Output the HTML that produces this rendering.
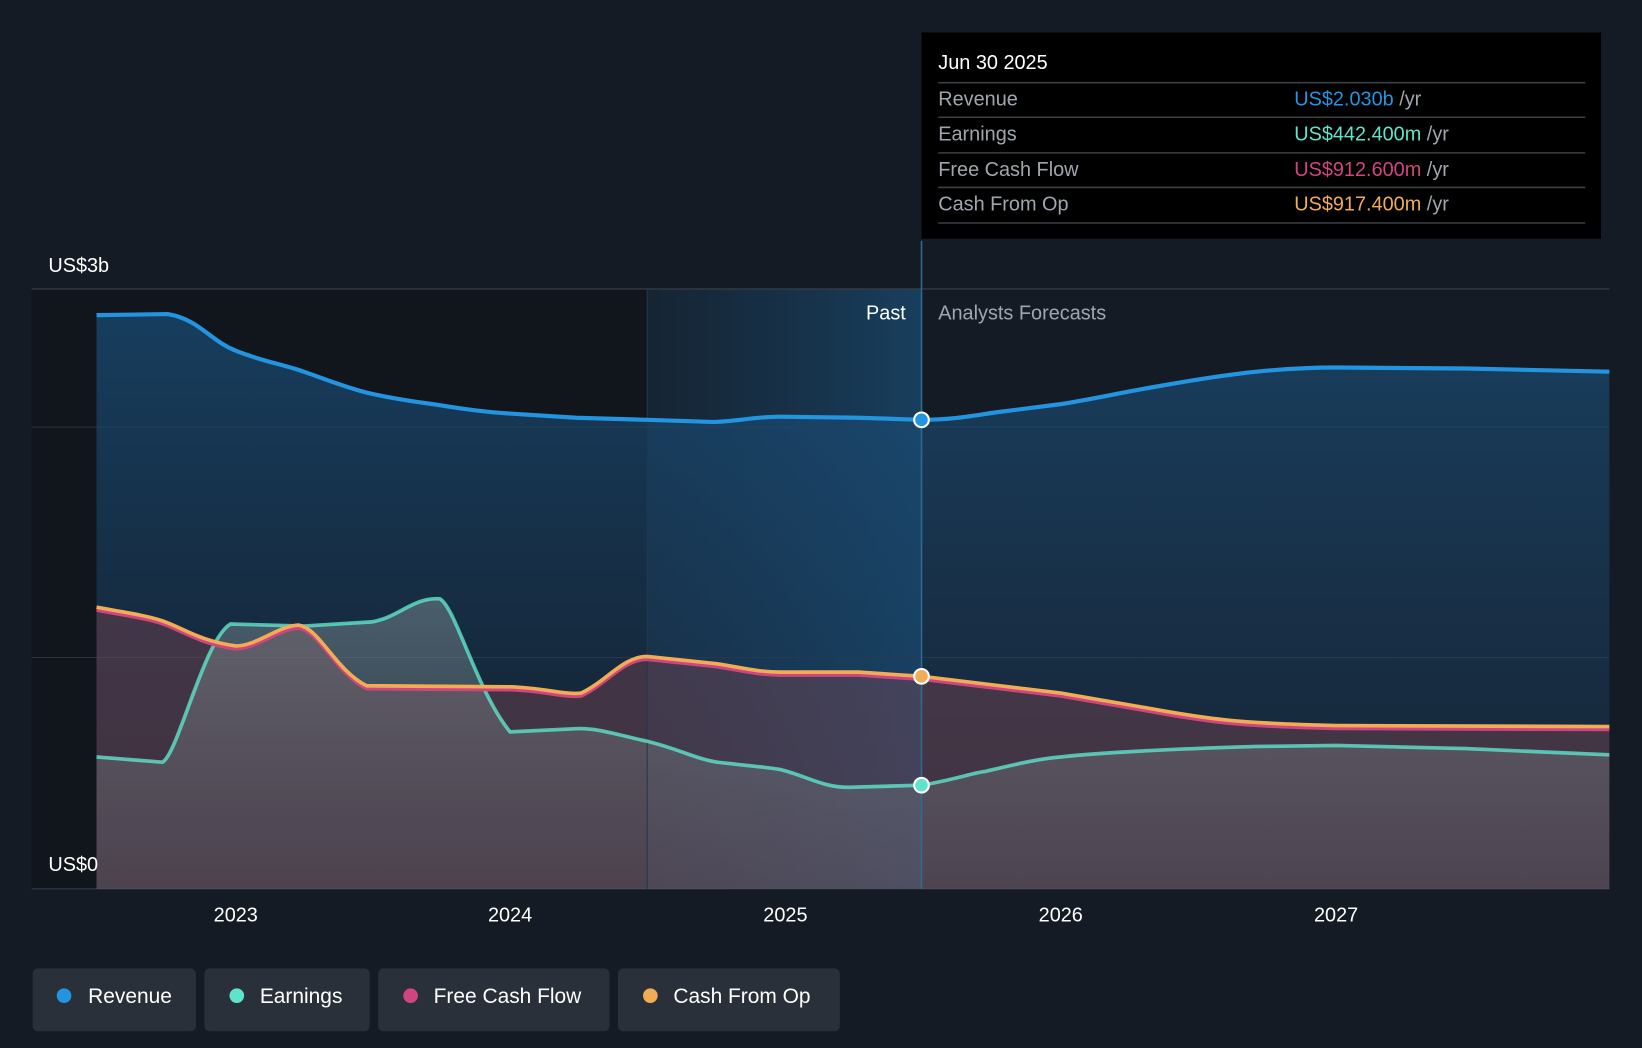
<!DOCTYPE html>
<html><head><meta charset="utf-8"><style>
html,body{margin:0;padding:0;background:#151b24;}
svg{display:block;font-family:"Liberation Sans",sans-serif;}
</style></head><body>
<svg width="1642" height="1048" viewBox="0 0 1568 1001" xmlns="http://www.w3.org/2000/svg">
<defs>
<linearGradient id="rev" x1="0" y1="0" x2="0" y2="1"><stop offset="0" stop-color="#1a4f7a" stop-opacity="0.7"/><stop offset="1" stop-color="#1a3a5a" stop-opacity="0.3"/></linearGradient>
<linearGradient id="hl" x1="0" y1="0" x2="1" y2="0"><stop offset="0" stop-color="#1b5a8a" stop-opacity="0.15"/><stop offset="1" stop-color="#1b6aa5" stop-opacity="0.45"/></linearGradient>
<linearGradient id="ef" x1="0" y1="0" x2="0" y2="1"><stop offset="0" stop-color="#8a9a9a" stop-opacity="0.45"/><stop offset="1" stop-color="#6a6f78" stop-opacity="0.3"/></linearGradient>
</defs>
<rect width="1568" height="1001" fill="#151b24"/>
<rect x="30" y="276" width="588" height="573" fill="#11151c"/>
<rect x="618" y="276" width="262" height="573" fill="url(#hl)"/>
<line x1="30" y1="276" x2="1537" y2="276" stroke="#3a414b" stroke-width="1"/>
<line x1="30" y1="408" x2="1537" y2="408" stroke="#2c3440" stroke-width="1"/>
<line x1="30" y1="628" x2="1537" y2="628" stroke="#2c3440" stroke-width="1"/>
<line x1="30" y1="849" x2="1537" y2="849" stroke="#3a414b" stroke-width="1"/>
<path d="M92,301 L160,300 C190,305 200,325 225,335 C250,345 270,348 290,355 C310,362 330,370 350,375 C380,382 400,384 420,387 C450,392 470,394 487,395 L550,399 L618,401 L680,403 C700,403 720,398 745,398 L820,399 L880,401 C910,401 930,397 950,394 L1013,386 C1050,380 1070,375 1100,370 C1150,361 1180,357 1200,355 C1230,352 1250,351 1276,351 L1400,352 L1537,355 L1537,849 L92,849 Z" fill="url(#rev)"/>
<path d="M92,580 C120,585 140,588 155,593 C175,600 190,612 225,617 C245,617 265,598 285,597 C305,600 320,640 350,655 L487,656 C520,657 540,664 555,662 C580,650 595,627 618,627 L685,634 C710,638 725,642 745,642 L820,642 L880,646 L1013,662 L1100,677 C1150,686 1180,691 1276,693 L1537,694 L1537,849 L92,849 Z" fill="#8a4a55" fill-opacity="0.38"/>
<path d="M92,723 L155,728 C170,720 195,610 220,596 L290,598 L355,594 C380,590 395,570 420,572 C435,580 455,660 487,699 L550,696 C570,695 590,702 618,708 C650,716 665,725 685,728 C720,732 735,733 745,735 C770,741 785,752 810,752 L880,750 C910,745 930,738 940,737 C970,730 990,725 1013,723 C1050,719 1100,716 1200,713 L1276,712 L1400,715 L1537,721 L1537,849 L92,849 Z" fill="url(#ef)"/>
<line x1="880" y1="230" x2="880" y2="849" stroke="#2e6a92" stroke-width="1.5"/>
<line x1="618" y1="276" x2="618" y2="849" stroke="#24384a" stroke-width="1"/>
<path d="M92,301 L160,300 C190,305 200,325 225,335 C250,345 270,348 290,355 C310,362 330,370 350,375 C380,382 400,384 420,387 C450,392 470,394 487,395 L550,399 L618,401 L680,403 C700,403 720,398 745,398 L820,399 L880,401 C910,401 930,397 950,394 L1013,386 C1050,380 1070,375 1100,370 C1150,361 1180,357 1200,355 C1230,352 1250,351 1276,351 L1400,352 L1537,355" fill="none" stroke="#2394df" stroke-width="4"/>
<path d="M92,723 L155,728 C170,720 195,610 220,596 L290,598 L355,594 C380,590 395,570 420,572 C435,580 455,660 487,699 L550,696 C570,695 590,702 618,708 C650,716 665,725 685,728 C720,732 735,733 745,735 C770,741 785,752 810,752 L880,750 C910,745 930,738 940,737 C970,730 990,725 1013,723 C1050,719 1100,716 1200,713 L1276,712 L1400,715 L1537,721" fill="none" stroke="#5fe3cc" stroke-opacity="0.8" stroke-width="3.5"/>
<path d="M92,583 C120,588 140,591 155,596 C175,603 190,615 225,620 C245,620 265,601 285,600 C305,603 320,643 350,658 L487,659 C520,660 540,667 555,665 C580,653 595,630 618,630 L685,637 C710,641 725,645 745,645 L820,645 L880,649 L1013,665 L1100,680 C1150,689 1180,694 1276,696 L1537,697" fill="none" stroke="#d0457f" stroke-width="3"/>
<path d="M92,580 C120,585 140,588 155,593 C175,600 190,612 225,617 C245,617 265,598 285,597 C305,600 320,640 350,655 L487,656 C520,657 540,664 555,662 C580,650 595,627 618,627 L685,634 C710,638 725,642 745,642 L820,642 L880,646 L1013,662 L1100,677 C1150,686 1180,691 1276,693 L1537,694" fill="none" stroke="#f0ad56" stroke-width="3.5"/>
<circle cx="880" cy="401" r="7" fill="#2394df" stroke="#fff" stroke-width="2"/>
<circle cx="880" cy="750" r="7" fill="#5fe3cc" stroke="#fff" stroke-width="2"/>
<circle cx="880" cy="646" r="7" fill="#f0ad56" stroke="#fff" stroke-width="2"/>
<text x="46" y="260" fill="#fff" font-size="19">US$3b</text>
<text x="46" y="832" fill="#fff" font-size="19">US$0</text>
<text x="865" y="305" fill="#fff" font-size="19" text-anchor="end">Past</text>
<text x="896" y="305" fill="#a0a6ad" font-size="19">Analysts Forecasts</text>
<g fill="#fff" font-size="19" text-anchor="middle">
<text x="225" y="880">2023</text><text x="487" y="880">2024</text><text x="750" y="880">2025</text><text x="1013" y="880">2026</text><text x="1276" y="880">2027</text></g>
<rect x="880" y="31" width="649" height="197" fill="#000"/>
<text x="896" y="66" fill="#fff" font-size="19">Jun 30 2025</text>
<g stroke="#3c3f44" stroke-width="1.5"><line x1="896" y1="79" x2="1514" y2="79"/><line x1="896" y1="112" x2="1514" y2="112"/><line x1="896" y1="146" x2="1514" y2="146"/><line x1="896" y1="179" x2="1514" y2="179"/><line x1="896" y1="213" x2="1514" y2="213"/></g>
<g font-size="19" fill="#a0a6ad">
<text x="896" y="101">Revenue</text><text x="896" y="134">Earnings</text><text x="896" y="168">Free Cash Flow</text><text x="896" y="201">Cash From Op</text>
<text x="1236" y="101"><tspan fill="#2394df">US$2.030b</tspan> /yr</text>
<text x="1236" y="134"><tspan fill="#5fe3cc">US$442.400m</tspan> /yr</text>
<text x="1236" y="168"><tspan fill="#d0457f">US$912.600m</tspan> /yr</text>
<text x="1236" y="201"><tspan fill="#f0ad56">US$917.400m</tspan> /yr</text>
</g>
<g font-size="20" fill="#fff">
<rect x="31" y="925" width="156" height="60" rx="5" fill="#2a3039"/><circle cx="61" cy="951" r="7" fill="#2394df"/><text x="84" y="958">Revenue</text>
<rect x="195" y="925" width="158" height="60" rx="5" fill="#2a3039"/><circle cx="226" cy="951" r="7" fill="#5fe3cc"/><text x="248" y="958">Earnings</text>
<rect x="361" y="925" width="221" height="60" rx="5" fill="#2a3039"/><circle cx="392" cy="951" r="7" fill="#d0457f"/><text x="414" y="958">Free Cash Flow</text>
<rect x="590" y="925" width="212" height="60" rx="5" fill="#2a3039"/><circle cx="621" cy="951" r="7" fill="#f0ad56"/><text x="643" y="958">Cash From Op</text>
</g>
</svg>
</body></html>
